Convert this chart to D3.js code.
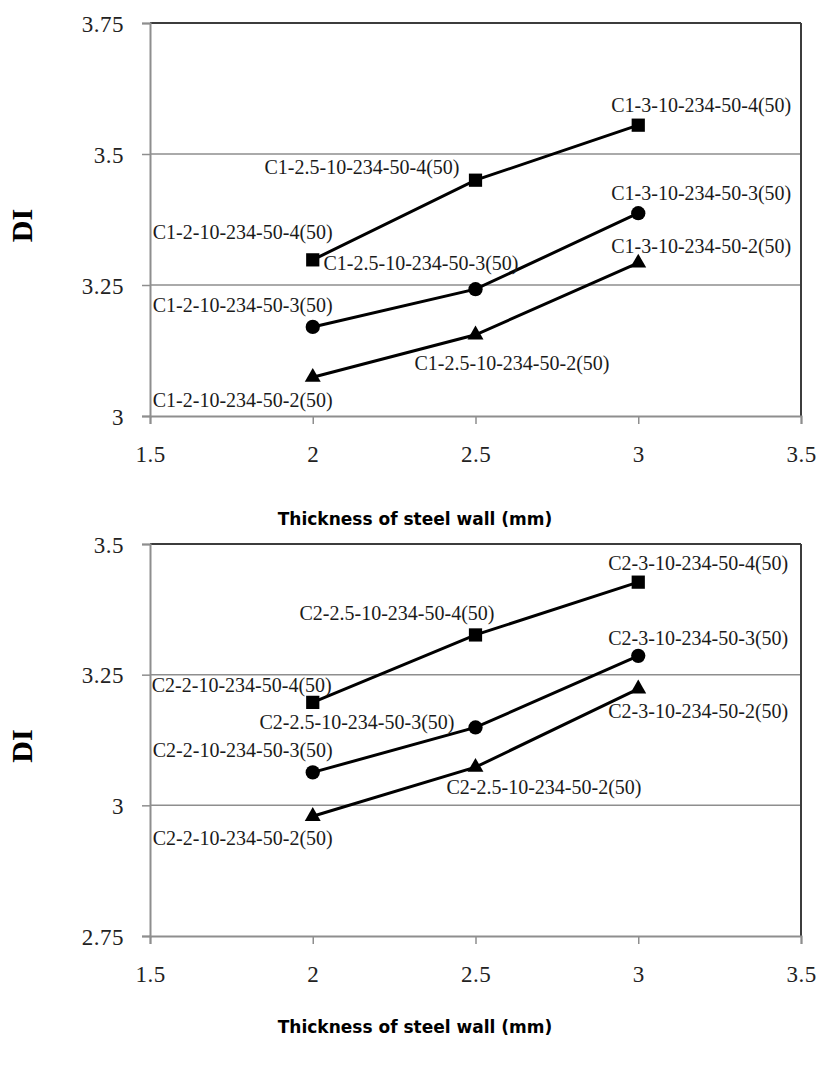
<!DOCTYPE html>
<html>
<head>
<meta charset="utf-8">
<script src="https://cdn.jsdelivr.net/npm/d3@7"></script>
<style>
  html, body { margin: 0; padding: 0; background: #fff; }
  svg { display: block; }
  .tick-label { font-family: "Liberation Serif", "Times New Roman", serif; font-size: 23px; fill: #222; letter-spacing: 0.5px; }
  .point-label { font-family: "Liberation Serif", "Times New Roman", serif; font-size: 20px; fill: #1a1a1a; }
  .y-title { font-family: "Liberation Serif", "Times New Roman", serif; font-size: 30px; font-weight: bold; fill: #000; }
  .x-title { font-family: "DejaVu Sans", sans-serif; font-size: 17px; font-weight: bold; fill: #000; }
</style>
</head>
<body>
<svg id="chart" width="818" height="1068"></svg>
<script>
// Wall thickness (mm) of the specimens
const thickness = [2, 2.5, 3];

// Shared x ticks
const xTicks = [1.5, 2, 2.5, 3, 3.5];

// Panel C1: damage index per series (last code digit 4, 3, 2)
const c1Series4 = [3.298, 3.450, 3.555];
const c1Series3 = [3.170, 3.242, 3.387];
const c1Series2 = [3.074, 3.155, 3.292];
const c1YTicks = [3, 3.25, 3.5, 3.75];

// Panel C2: damage index per series
const c2Series4 = [3.197, 3.326, 3.427];
const c2Series3 = [3.063, 3.149, 3.286];
const c2Series2 = [2.979, 3.073, 3.223];
const c2YTicks = [2.75, 3, 3.25, 3.5];

const seriesCodes = [4, 3, 2];
const markerShapes = ["square", "circle", "triangle"];

// Label placement relative to each point: [dx to text start, dy to text middle]
const c1LabelOffsets = [
  [[-160, -28], [-211, -13], [-27, -20]],
  [[-160, -22], [-152, -26], [-27, -20]],
  [[-160, 23], [-61, 28], [-27, -17]]
];
const c2LabelOffsets = [
  [[-161, -17], [-176, -22], [-30, -19]],
  [[-160, -22], [-216, -5], [-30, -18]],
  [[-160, 22], [-29, 20], [-30, 22]]
];

const svg = d3.select("#chart");

function drawPanel(cfg) {
  const { prefix, series, yTicks, offsets, top, bottom, titleY } = cfg;
  const left = 150, right = 801;

  const x = d3.scaleLinear().domain([xTicks[0], xTicks[xTicks.length - 1]]).range([left, right]);
  const y = d3.scaleLinear().domain([yTicks[0], yTicks[yTicks.length - 1]]).range([bottom, top]);

  const g = svg.append("g");
  const gray = "#8e8e8e";

  // Horizontal gridlines (interior)
  g.append("g").selectAll("line")
    .data(yTicks.slice(1, -1))
    .join("line")
    .attr("x1", left).attr("x2", right)
    .attr("y1", d => y(d)).attr("y2", d => y(d))
    .attr("stroke", gray).attr("stroke-width", 1.5);

  // Frame: dark top and right edges
  g.append("line").attr("x1", left).attr("x2", right).attr("y1", top).attr("y2", top)
    .attr("stroke", "#3c3c3c").attr("stroke-width", 2);
  g.append("line").attr("x1", right).attr("x2", right).attr("y1", top).attr("y2", bottom)
    .attr("stroke", "#3c3c3c").attr("stroke-width", 2);

  // Y axis
  const yAxis = d3.axisLeft(y).tickValues(yTicks).tickSize(8).tickPadding(18)
    .tickFormat(d3.format(""));
  const ya = g.append("g").attr("transform", `translate(${left},0)`).call(yAxis);
  ya.select(".domain").attr("stroke", gray).attr("stroke-width", 2);
  ya.selectAll(".tick line").attr("stroke", gray).attr("stroke-width", 1.5);
  ya.selectAll(".tick text").attr("class", "tick-label").attr("fill", null)
    .attr("font-size", null).attr("font-family", null).attr("dy", "0.35em");
  ya.attr("font-size", null).attr("font-family", null);

  // X axis
  const xAxis = d3.axisBottom(x).tickValues(xTicks).tickSize(8).tickPadding(22)
    .tickFormat(d3.format(""));
  const xa = g.append("g").attr("transform", `translate(0,${bottom})`).call(xAxis);
  xa.select(".domain").attr("stroke", gray).attr("stroke-width", 2);
  xa.selectAll(".tick line").attr("stroke", gray).attr("stroke-width", 1.5);
  xa.selectAll(".tick text").attr("class", "tick-label").attr("fill", null)
    .attr("font-size", null).attr("font-family", null);
  xa.attr("font-size", null).attr("font-family", null);

  // Series lines
  const line = d3.line().x((d, i) => x(thickness[i])).y(d => y(d));
  series.forEach((vals) => {
    g.append("path").datum(vals)
      .attr("d", line)
      .attr("fill", "none").attr("stroke", "#000").attr("stroke-width", 3);
  });

  // Markers
  const symbolFor = { square: d3.symbolSquare, circle: d3.symbolCircle, triangle: d3.symbolTriangle };
  const sizeFor = { square: 175, circle: 160, triangle: 110 };
  series.forEach((vals, si) => {
    const shape = markerShapes[si];
    g.append("g").selectAll("path")
      .data(vals)
      .join("path")
      .attr("transform", (d, i) => `translate(${x(thickness[i])},${y(d)})`)
      .attr("d", d3.symbol(symbolFor[shape], sizeFor[shape]))
      .attr("fill", "#000");
  });

  // Point labels
  series.forEach((vals, si) => {
    g.append("g").selectAll("text")
      .data(vals)
      .join("text")
      .attr("class", "point-label")
      .attr("x", (d, i) => x(thickness[i]) + offsets[si][i][0])
      .attr("y", (d, i) => y(d) + offsets[si][i][1])
      .attr("dy", "0.35em")
      .text((d, i) => `${prefix}-${thickness[i]}-10-234-50-${seriesCodes[si]}(50)`);
  });

  // Axis titles
  g.append("text").attr("class", "y-title")
    .attr("transform", `translate(32,${(top + bottom) / 2 + 6}) rotate(-90)`)
    .attr("text-anchor", "middle")
    .text("DI");
  g.append("text").attr("class", "x-title")
    .attr("x", 415).attr("y", titleY).attr("dy", "0.35em")
    .attr("text-anchor", "middle")
    .text("Thickness of steel wall (mm)");
}

drawPanel({
  prefix: "C1", series: [c1Series4, c1Series3, c1Series2], yTicks: c1YTicks,
  offsets: c1LabelOffsets, top: 23, bottom: 416, titleY: 519
});
drawPanel({
  prefix: "C2", series: [c2Series4, c2Series3, c2Series2], yTicks: c2YTicks,
  offsets: c2LabelOffsets, top: 544, bottom: 936, titleY: 1027
});
</script>
</body>
</html>
